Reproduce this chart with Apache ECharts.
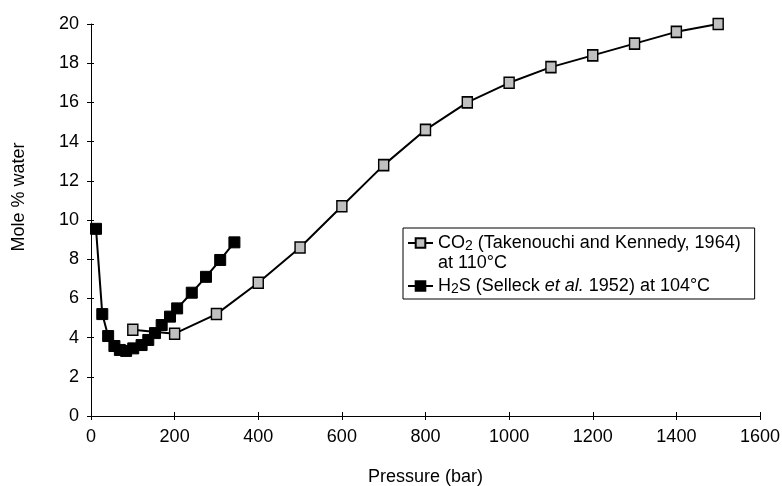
<!DOCTYPE html>
<html>
<head>
<meta charset="utf-8">
<script src="https://cdn.jsdelivr.net/npm/echarts@6/dist/echarts.min.js"></script>
<style>
html,body{margin:0;padding:0;background:#fff;}
#chart{width:782px;height:486px;}
</style>
</head>
<body>
<div id="chart"></div>
<script>
// CO2 (Takenouchi and Kennedy, 1964) at 110°C
const co2Pressure = [100, 200, 300, 400, 500, 600, 700, 800, 900, 1000, 1100, 1200, 1300, 1400, 1500];
const co2Water    = [4.4, 4.2, 5.2, 6.8, 8.6, 10.7, 12.8, 14.6, 16.0, 17.0, 17.8, 18.4, 19.0, 19.6, 20.0];
// H2S (Selleck et al. 1952) at 104°C
const h2sPressure = [12, 27, 41, 56, 69, 84, 101, 121, 137, 153, 169, 189, 206, 241, 275, 309, 343];
const h2sWater    = [9.55, 5.2, 4.08, 3.57, 3.37, 3.32, 3.45, 3.62, 3.88, 4.23, 4.64, 5.07, 5.49, 6.29, 7.1, 7.96, 8.86];
// axis ticks
const xTicks = [0, 200, 400, 600, 800, 1000, 1200, 1400, 1600];
const yTicks = [0, 2, 4, 6, 8, 10, 12, 14, 16, 18, 20];

const seriesNames = ['CO2', 'H2S'];
const legendTexts = {
  'CO2': 'CO{sub|2} (Takenouchi and Kennedy, 1964)\nat 110°C',
  'H2S': 'H{sub|2}S (Selleck {it|et al.} 1952) at 104°C'
};

const FONT = 'Liberation Sans, Arial, sans-serif';
const chart = echarts.init(document.getElementById('chart'), null, {renderer: 'canvas'});

const xMin = xTicks[0], xMax = xTicks[xTicks.length - 1], xInt = xTicks[1] - xTicks[0];
const yMin = yTicks[0], yMax = yTicks[yTicks.length - 1], yInt = yTicks[1] - yTicks[0];

const baseAxisX = {type: 'value', min: xMin, max: xMax, interval: xInt, gridIndex: 0, position: 'bottom', splitLine: {show: false}};
const baseAxisY = {type: 'value', min: yMin, max: yMax, interval: yInt, gridIndex: 0, position: 'left', splitLine: {show: false}};

chart.setOption({
  animation: false,
  backgroundColor: '#ffffff',
  textStyle: {fontFamily: FONT, color: '#000'},
  grid: {left: 91, right: 22, top: 24, bottom: 70, containLabel: false, outerBoundsMode: 'none'},
  legend: {
    orient: 'vertical',
    left: 403,
    top: 228,
    padding: [5, 14, 3, 4],
    itemGap: 4,
    itemWidth: 25,
    itemHeight: 12,
    backgroundColor: '#fff',
    borderColor: '#000',
    borderWidth: 1,
    borderRadius: 0,
    data: [
      {name: seriesNames[0], textStyle: {padding: [0, 0, -20, 0]}},
      {name: seriesNames[1]}
    ],
    formatter: function (name) { return legendTexts[name]; },
    textStyle: {
      fontFamily: FONT, fontSize: 18, color: '#000', lineHeight: 20,
      rich: {
        sub: {fontFamily: FONT, fontSize: 14, lineHeight: 20, verticalAlign: 'bottom', color: '#000'},
        it: {fontFamily: FONT, fontSize: 18, fontStyle: 'italic', lineHeight: 20, color: '#000'}
      }
    }
  },
  xAxis: [
    Object.assign({}, baseAxisX, {
      name: 'Pressure (bar)',
      nameLocation: 'middle',
      nameGap: 52,
      nameTextStyle: {fontFamily: FONT, fontSize: 18, color: '#000'},
      axisLine: {show: true, lineStyle: {color: '#000', width: 1}},
      axisTick: {show: true, inside: false, length: 4, lineStyle: {color: '#000', width: 1}},
      axisLabel: {show: true, margin: 12, fontFamily: FONT, fontSize: 18, color: '#000',
        formatter: function (v) { return String(v); }}
    }),
    Object.assign({}, baseAxisX, {
      axisLine: {show: false},
      axisTick: {show: true, inside: true, length: 4, lineStyle: {color: '#000', width: 1}},
      axisLabel: {show: false}
    })
  ],
  yAxis: [
    Object.assign({}, baseAxisY, {
      name: 'Mole % water',
      nameLocation: 'middle',
      nameGap: 63,
      nameRotate: 90,
      nameTextStyle: {fontFamily: FONT, fontSize: 18, color: '#000', padding: [0, 0, 0, 46]},
      axisLine: {show: true, lineStyle: {color: '#000', width: 1}},
      axisTick: {show: true, inside: false, length: 4, lineStyle: {color: '#000', width: 1}},
      axisLabel: {show: true, margin: 12, fontFamily: FONT, fontSize: 18, color: '#000',
        formatter: function (v) { return String(v); }}
    }),
    Object.assign({}, baseAxisY, {
      axisLine: {show: false},
      axisTick: {show: true, inside: true, length: 3, lineStyle: {color: '#000', width: 1}},
      axisLabel: {show: false}
    })
  ],
  series: [
    {
      name: seriesNames[0],
      type: 'line',
      xAxisIndex: 0, yAxisIndex: 0,
      data: co2Pressure.map((p, i) => [p, co2Water[i]]),
      symbol: 'rect',
      symbolSize: [10, 11],
      showAllSymbol: true,
      lineStyle: {color: '#000', width: 2},
      itemStyle: {color: '#c0c0c0', borderColor: '#000', borderWidth: 1.5},
      emphasis: {disabled: true},
      z: 2
    },
    {
      name: seriesNames[1],
      type: 'line',
      xAxisIndex: 0, yAxisIndex: 0,
      data: h2sPressure.map((p, i) => [p, h2sWater[i]]),
      symbol: 'rect',
      symbolSize: 11,
      showAllSymbol: true,
      lineStyle: {color: '#000', width: 2},
      itemStyle: {color: '#000', borderColor: '#000', borderWidth: 1},
      emphasis: {disabled: true},
      z: 3
    }
  ]
});
</script>
</body>
</html>
